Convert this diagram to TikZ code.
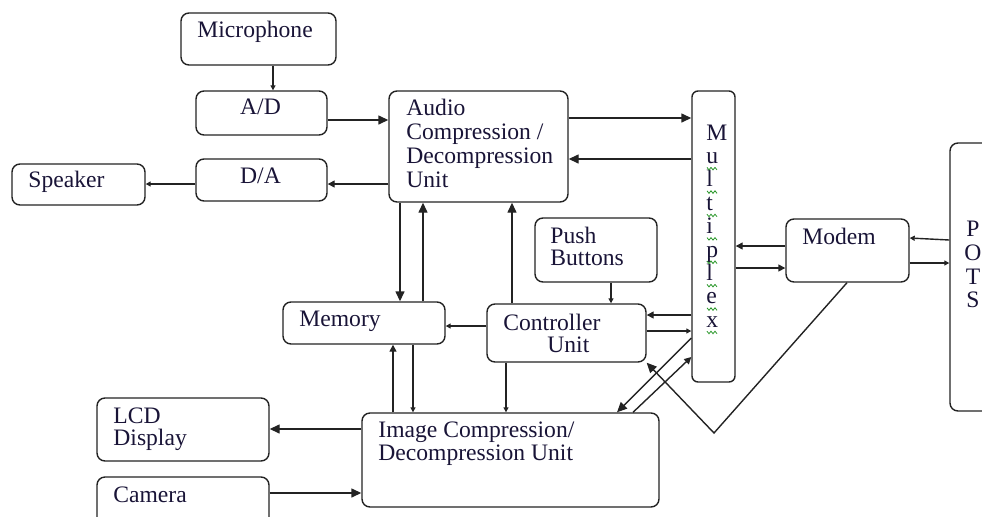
\documentclass[tikz,border=0pt]{standalone}
\usepackage{fontspec}
\setmainfont{Liberation Serif}
\usetikzlibrary{arrows.meta}
\definecolor{ink}{RGB}{25,20,55}
\definecolor{lc}{RGB}{35,35,35}
\definecolor{sq}{RGB}{40,150,40}
\begin{document}
\begin{tikzpicture}[x=0.5pt,y=-0.5pt,
  box/.style={draw=lc, line width=0.7pt, rounded corners=4pt, inner sep=0pt},
  txt/.style={anchor=base west, inner sep=0pt, text=ink, font=\fontsize{11.8}{12}\selectfont},
  ctxt/.style={anchor=base, inner sep=0pt, text=ink, font=\fontsize{11.8}{12}\selectfont},
  ln/.style={draw=lc, line width=0.7pt},
  big/.style={ln, -{Triangle[length=5pt,width=4.5pt]}},
  mid/.style={ln, -{Triangle[length=3.5pt,width=3.5pt]}},
  sml/.style={ln, -{Triangle[length=2.5pt,width=2.5pt]}},
  squig/.style={draw=sq, line width=0.4pt}
]
\useasboundingbox (0,0) rectangle (982,516);

% boxes
\node[box, minimum width=77.5pt, minimum height=26pt] (mic) at (258.5,39) {};
\node[box, minimum width=65.5pt, minimum height=22pt] (ad) at (261.5,113) {};
\node[box, minimum width=65.5pt, minimum height=21pt] (da) at (261.5,180) {};
\node[box, minimum width=89.5pt, minimum height=55.5pt] (audio) at (478.5,146.5) {};
\node[box, minimum width=66.5pt, minimum height=20.5pt] (spk) at (78.5,184.5) {};
\node[box, rounded corners=3pt, minimum width=21.5pt, minimum height=145.5pt] (mux) at (713.5,236.5) {};
\node[box, minimum width=61.5pt, minimum height=31.5pt] (modem) at (847.5,250.5) {};
\node[box, minimum width=25pt, minimum height=134pt] (pots) at (975,277) {};
\node[box, minimum width=61pt, minimum height=32pt] (pb) at (596,250) {};
\node[box, minimum width=79.5pt, minimum height=29pt] (ctrl) at (566.5,333) {};
\node[box, minimum width=81pt, minimum height=21pt] (mem) at (364,323) {};
\node[box, minimum width=86pt, minimum height=31.5pt] (lcd) at (183,429.5) {};
\node[box, minimum width=86pt, minimum height=31.5pt] (cam) at (183,508.5) {};
\node[box, minimum width=148.5pt, minimum height=47pt] (img) at (510.5,460) {};

% texts
\node[txt] (mic-t) at (197,37) {Microphone};
\node[ctxt] (ad-t) at (260.5,114) {A/D};
\node[ctxt] (da-t) at (260.5,183) {D/A};
\node[txt] (audio-t1) at (406,115) {Audio};
\node[txt] (audio-t2) at (406,139) {Compression /};
\node[txt] (audio-t3) at (406,163) {Decompression};
\node[txt] (audio-t4) at (406,187) {Unit};
\node[txt] (spk-t) at (28,187) {Speaker};
\foreach \l [count=\k from 0] in {M,u,l,t,i,p,l,e,x}
  {\node[txt] (mux-\k) at (706,{140+23.4*\k}) {\l};}
\foreach \k in {1,...,8}
  {\draw[squig] (707,{140+23.4*\k+4}) -- ++(2,2.5) -- ++(2,-2.5) -- ++(2,2.5) -- ++(2,-2.5) -- ++(2,2.5);}
\node[txt] (modem-t) at (802,244) {Modem};
\node[ctxt] (pots-p) at (973,236) {P};
\node[ctxt] (pots-o) at (973,260) {O};
\node[ctxt] (pots-t) at (973,284) {T};
\node[ctxt] (pots-s) at (973,307) {S};
\node[txt] (pb-t1) at (550,243) {Push};
\node[txt] (pb-t2) at (550,265) {Buttons};
\node[txt] (ctrl-t1) at (503,330) {Controller};
\node[txt] (ctrl-t2) at (547,352) {Unit};
\node[txt] (mem-t) at (299,326) {Memory};
\node[txt] (lcd-t1) at (113,423) {LCD};
\node[txt] (lcd-t2) at (113,445) {Display};
\node[txt] (img-t1) at (378,437) {Image Compression/};
\node[txt] (img-t2) at (378,460) {Decompression Unit};
\node[txt] (cam-t) at (113,502) {Camera};

% connectors
\draw[sml] (mic.south -| 273,0) -- (ad.north -| 273,0);
\draw[big] (ad.east |- 0,120) -- (audio.west |- 0,120);
\draw[mid] (audio.west |- 0,184) -- (da.east |- 0,184);
\draw[sml] (da.west |- 0,184) -- (spk.east |- 0,184);
\draw[big] (audio.east |- 0,118) -- (mux.west |- 0,118);
\draw[big] (mux.west |- 0,159) -- (audio.east |- 0,159);
\draw[big] (audio.south -| 400,0) -- (mem.north -| 400,0);
\draw[big] (mem.north -| 423,0) -- (audio.south -| 423,0);
\draw[big] (ctrl.north -| 512,0) -- (audio.south -| 512,0);
\draw[sml] (pb.south -| 611,0) -- (ctrl.north -| 611,0);
\draw[sml] (ctrl.west |- 0,326) -- (mem.east |- 0,326);
\draw[mid] (img.north -| 393,0) -- (mem.south -| 393,0);
\draw[sml] (mem.south -| 413,0) -- (img.north -| 413,0);
\draw[sml] (ctrl.south -| 506,0) -- (img.north -| 506,0);
\draw[mid] (mux.west |- 0,315) -- (ctrl.east |- 0,315);
\draw[sml] (ctrl.east |- 0,331) -- (mux.west |- 0,331);
\draw[big] (mux.west |- 0,338) -- (img.north -| 617,0);
\draw[mid] (img.north -| 633,0) -- (mux.west |- 0,357);
\coordinate (vtx) at (714,433);
\draw[big] (modem.south -| 847,0) -- (vtx) -- (ctrl.south east);
\draw[mid] (modem.west |- 0,246) -- (mux.east |- 0,246);
\draw[mid] (mux.east |- 0,268) -- (modem.west |- 0,268);
\draw[sml] (pots.west |- 0,240) -- (modem.east |- 0,238);
\draw[sml] (modem.east |- 0,263) -- (pots.west |- 0,263);
\draw[big] (img.west |- 0,429) -- (lcd.east |- 0,429);
\draw[big] (cam.east |- 0,493) -- (img.west |- 0,493);
\end{tikzpicture}
\end{document}
